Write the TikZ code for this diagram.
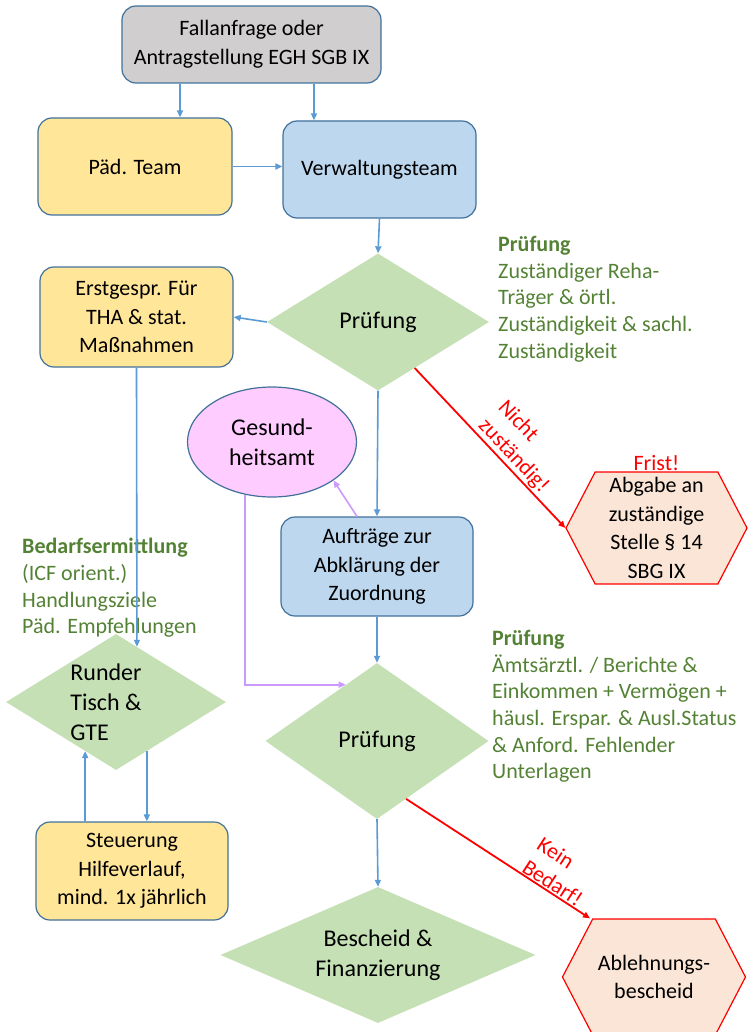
\documentclass[tikz,border=0pt]{standalone}
\usepackage{fontspec}
\setmainfont{Carlito}
\usetikzlibrary{positioning}
\usetikzlibrary{calc}
\usetikzlibrary{shapes.geometric}
\usetikzlibrary{shapes.symbols}
\usetikzlibrary{arrows.meta}

\definecolor{rahmen}{RGB}{65,113,156}
\definecolor{pfeilblau}{RGB}{91,155,213}
\definecolor{grau}{RGB}{208,206,206}
\definecolor{gelb}{RGB}{255,230,153}
\definecolor{hellblau}{RGB}{189,215,238}
\definecolor{gruen}{RGB}{197,224,180}
\definecolor{dunkelgruen}{RGB}{84,130,53}
\definecolor{rosa}{RGB}{255,204,255}
\definecolor{lila}{RGB}{204,153,255}
\definecolor{lachs}{RGB}{251,229,214}

\tikzset{
  kasten/.style={draw=rahmen, line width=1.2pt, rounded corners=14pt, align=center,
    inner sep=2pt, font=\fontsize{22}{28.5}\selectfont},
  raute/.style={diamond, fill=gruen, inner sep=0pt, align=center,
    font=\fontsize{24}{30}\selectfont},
  sechseck/.style={signal, signal to=west and east, signal pointer angle=125,
    draw=red, line width=1.2pt, fill=lachs, align=center, inner sep=0pt,
    font=\fontsize{22}{28.5}\selectfont},
  hinweis/.style={anchor=north west, align=left, inner sep=0pt, text=dunkelgruen,
    font=\fontsize{22}{26.7}\selectfont},
  rottext/.style={text=red, align=left, inner sep=1pt, font=\fontsize{22}{27}\selectfont},
  pfeil/.style={->, draw=pfeilblau, line width=1.6pt},
  lilapfeil/.style={->, draw=lila, line width=1.6pt},
  rotpfeil/.style={->, draw=red, line width=1.8pt},
}

\begin{document}
\begin{tikzpicture}[x=1pt,y=-1pt,>={Triangle[length=7pt,width=6pt]}]
\useasboundingbox (0,0) rectangle (747,1032);

% Kaesten
\node[kasten, fill=grau, minimum width=259, minimum height=77] (anfrage) at (251.5,44.5) {Fallanfrage oder\\Antragstellung EGH SGB IX};
\node[kasten, fill=gelb, minimum width=194, minimum height=97] (paed) at (135,166.5) {Päd. Team};
\node[kasten, fill=hellblau, minimum width=193, minimum height=97] (verw) at (379.5,169.5) {Verwaltungsteam};
\node[kasten, fill=gelb, minimum width=193, minimum height=100] (erst) at (136.5,317) {Erstgespr. Für\\THA \& stat.\\Maßnahmen};
\node[kasten, fill=hellblau, minimum width=192, minimum height=99] (auftrag) at (377,566.5) {Aufträge zur\\Abklärung der\\Zuordnung};
\node[kasten, fill=gelb, minimum width=192, minimum height=98] (steuer) at (132,871) {Steuerung\\Hilfeverlauf,\\mind. 1x jährlich};

% Rauten
\node[raute, aspect=1.6, minimum width=222, minimum height=137] (pruef1) at (378,322) {Prüfung};
\node[raute, aspect=1.4, minimum width=223, minimum height=156] (pruef2) at (377,741) {Prüfung};
\node[raute, aspect=2.3, minimum width=315, minimum height=136] (bescheid) at (378,955) {Bescheid \&\\Finanzierung};
\node[raute, aspect=1.6, minimum width=220, minimum height=136] (tisch) at (116,702) {};
\node[align=left, inner sep=0pt, font=\fontsize{24}{30}\selectfont] (tischtext) at (106,702) {Runder\\Tisch \&\\GTE};

\node[ellipse, draw=rahmen, line width=1.2pt, fill=rosa, minimum width=169, minimum height=110,
  inner sep=0pt, align=center, font=\fontsize{24}{30}\selectfont] (amt) at (272,442) {Gesund-\\heitsamt};

% Sechsecke
\node[sechseck, minimum width=181, minimum height=112] (abgabe) at (656.5,528) {Abgabe an\\zuständige\\Stelle § 14\\SBG IX};
\node[rottext, above=0pt of abgabe] (frist) {Frist!};
\node[sechseck, minimum width=183, minimum height=116] (ablehnung) at (654,977) {Ablehnungs-\\bescheid};

% Hinweise
\node[hinweis] (info1) at (498,236) {\textbf{Prüfung}\\Zuständiger Reha-\\Träger \& örtl.\\Zuständigkeit \& sachl.\\Zuständigkeit};
\node[hinweis] (info2) at (492,630) {\textbf{Prüfung}\\Ämtsärztl. / Berichte \&\\Einkommen + Vermögen +\\häusl. Erspar. \& Ausl.Status\\\& Anford. Fehlender\\Unterlagen};
\node[hinweis] (info3) at (22,538) {\textbf{Bedarfsermittlung}\\(ICF orient.)\\Handlungsziele\\Päd. Empfehlungen};

% Pfeile
\draw[pfeil] ([xshift=-71.5pt]anfrage.south) -- ([xshift=45pt]paed.north);
\draw[pfeil] ([xshift=62.5pt]anfrage.south) -- ([xshift=-65.5pt]verw.north);
\draw[pfeil] (paed.east) -- (paed.east -| verw.west);
\draw[pfeil] (verw.south) -- (pruef1.north);
\draw[pfeil] (pruef1.west) -- (erst.east);
\draw[pfeil] (erst.south) -- ($(tisch.north)!0.19!(tisch.east)$);
\draw[pfeil] (pruef1.south) -- (auftrag.north);
\draw[pfeil] (auftrag.south) -- (pruef2.north);
\draw[pfeil] (pruef2.south) -- (bescheid.north);

\coordinate (tischlinks) at ($(tisch.south)!0.28!(tisch.west)$);
\coordinate (tischrechts) at ($(tisch.south)!0.28!(tisch.east)$);
\draw[pfeil] (steuer.north -| tischlinks) -- (tischlinks);
\draw[pfeil] (tischrechts) -- (tischrechts |- steuer.north);

\draw[lilapfeil] ([xshift=-20pt]auftrag.north) -- (amt.-32);
\draw[lilapfeil] (amt.243) |- ($(pruef2.north)!0.28!(pruef2.west)$);

\draw[rotpfeil] ($(pruef1.south)!0.33!(pruef1.east)$) -- node[rottext, sloped, above, pos=0.6] {Nicht\\zuständig!} (abgabe.west);
\draw[rotpfeil] ($(pruef2.south)!0.26!(pruef2.east)$) -- node[rottext, sloped, above, pos=0.77] {Kein\\Bedarf!} ($(ablehnung.north)+(-64,0)$);
\end{tikzpicture}
\end{document}
